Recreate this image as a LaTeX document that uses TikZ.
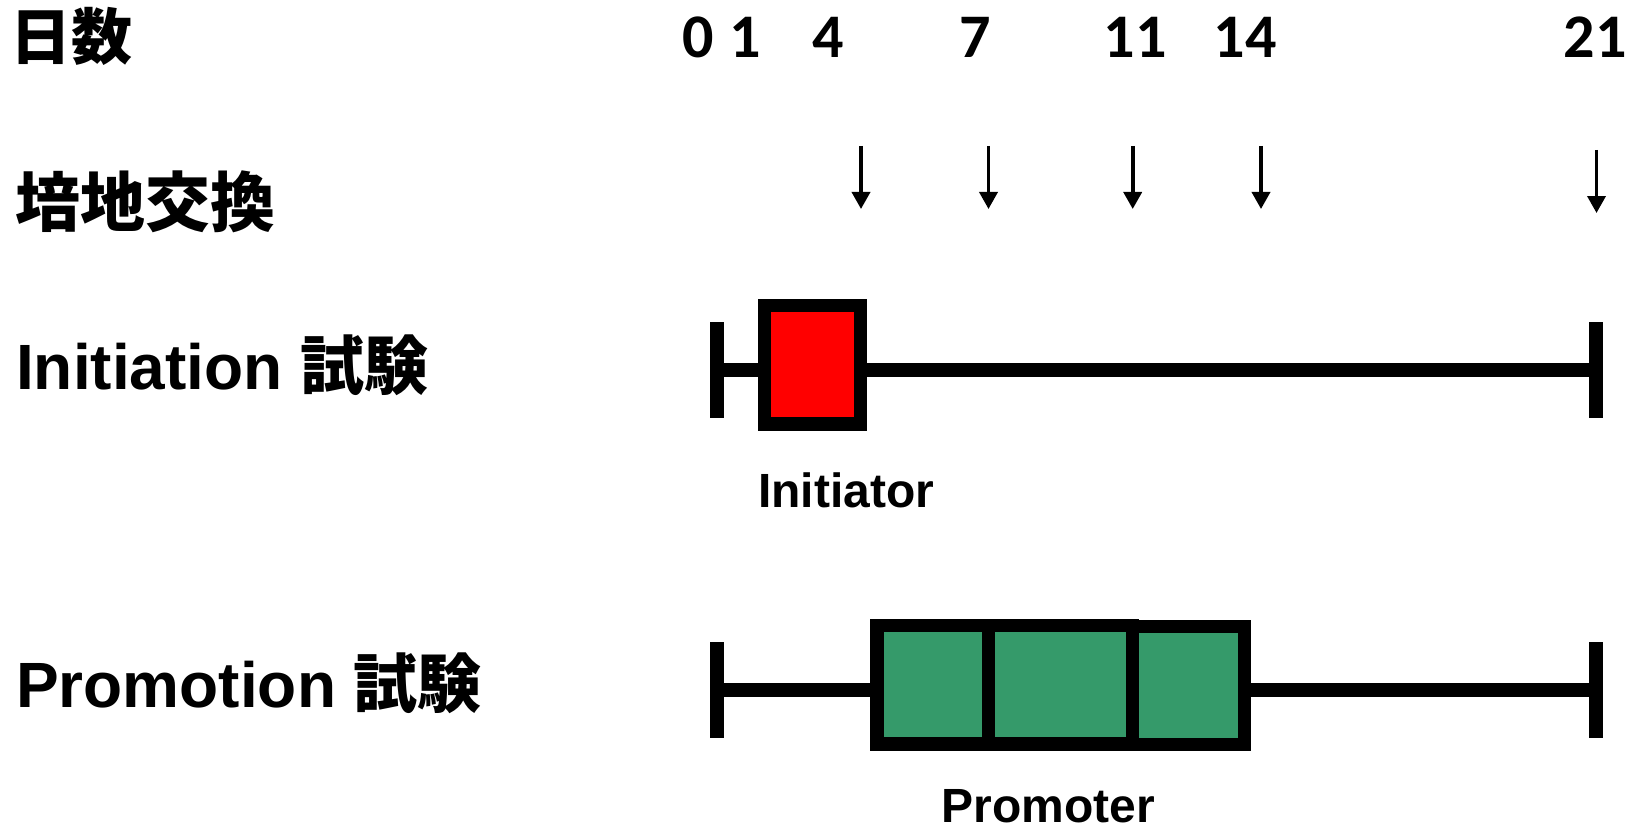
\documentclass[tikz,border=0pt]{standalone}
\usepackage{fontspec}
\setmainfont{Liberation Sans}
\newfontfamily\cjk{Noto Sans CJK JP}
\newfontfamily\digitfont{Carlito}
\usetikzlibrary{arrows.meta}
\definecolor{boxgreen}{RGB}{53,154,106}
\definecolor{boxred}{RGB}{255,0,0}
\begin{document}
\begin{tikzpicture}[x=1pt,y=-1pt,
  biglbl/.style={inner sep=0pt, anchor=base west, font=\fontsize{64}{70}\selectfont\bfseries},
  cjklbl/.style={inner sep=0pt, anchor=base west},
  daynum/.style={inner sep=0pt, anchor=base, font=\digitfont\fontsize{62}{66}\selectfont\bfseries},
  sublbl/.style={inner sep=0pt, anchor=base, font=\fontsize{48}{52}\selectfont\bfseries},
  arr/.style={line width=3.6pt, -{Triangle[width=18pt,length=17pt]}},
  tline/.style={line width=14pt},
  tickmark/.style={line width=14pt},
  stagebox/.style={draw=black, line width=13.4pt, inner sep=0pt, minimum height=118.5pt}
]
\useasboundingbox (0,0) rectangle (1637,829);

% left labels
\node[cjklbl, font=\cjk\fontsize{61}{64}\selectfont\bfseries] (days) at (10,60) {日数};
\node[cjklbl, font=\cjk\fontsize{65}{70}\selectfont\bfseries] (medium) at (15,226) {培地交換};
\node[biglbl] (initlbl) at (16,389) {Initiation {\cjk 試験}};
\node[biglbl] (promlbl) at (16,707) {Promotion {\cjk 試験}};

% day numbers
\node[daynum] (d0) at (698.5,58) {0};
\node[daynum] (d1) at (745.5,58) {1};
\node[daynum] (d4) at (828,58) {4};
\node[daynum] (d7) at (975,58) {7};
\node[daynum] (d11) at (1135,58) {11};
\node[daynum] (d14) at (1245,58) {14};
\node[daynum] (d21) at (1595,58) {21};

% medium change arrows
\coordinate (a1s) at (861,146);    \coordinate (a1e) at (861,209);
\coordinate (a2s) at (988.5,146);  \coordinate (a2e) at (988.5,209);
\coordinate (a3s) at (1132.7,146); \coordinate (a3e) at (1132.7,209);
\coordinate (a4s) at (1261,146);   \coordinate (a4e) at (1261,209);
\coordinate (a5s) at (1596.5,150); \coordinate (a5e) at (1596.5,213);
\draw[arr] (a1s) -- (a1e);
\draw[arr] (a2s) -- (a2e);
\draw[arr] (a3s) -- (a3e);
\draw[arr] (a4s) -- (a4e);
\draw[arr] (a5s) -- (a5e);

% Initiation timeline
\coordinate (i0) at (716.6,369.7);
\coordinate (i21) at (1596,369.7);
\coordinate (i0t) at (716.6,322); \coordinate (i0b) at (716.6,418);
\coordinate (i21t) at (1596,322); \coordinate (i21b) at (1596,418);
\draw[tline] (i0) -- (i21);
\draw[tickmark] (i0t) -- (i0b);
\draw[tickmark] (i21t) -- (i21b);
\node[stagebox, fill=boxred, minimum width=95.6pt] (initbox) at (812.5,364.75) {};
\node[sublbl] (initiator) at (846,507) {Initiator};

% Promotion timeline
\coordinate (p0) at (716.6,689.7);
\coordinate (p21) at (1596,689.7);
\coordinate (p0t) at (716.6,642); \coordinate (p0b) at (716.6,738);
\coordinate (p21t) at (1596,642); \coordinate (p21b) at (1596,738);
\draw[tline] (p0) -- (p21);
\draw[tickmark] (p0t) -- (p0b);
\draw[tickmark] (p21t) -- (p21b);
\node[stagebox, fill=boxgreen, minimum width=111.5pt] (pbox1) at (932.55,684.75) {};
\node[stagebox, fill=boxgreen, minimum width=144.3pt] (pbox2) at (1060.45,684.75) {};
\node[stagebox, fill=boxgreen, minimum width=111.7pt] (pbox3) at (1188.45,685.5) {};
\node[sublbl] (promoter) at (1048,822) {Promoter};
\end{tikzpicture}
\end{document}
